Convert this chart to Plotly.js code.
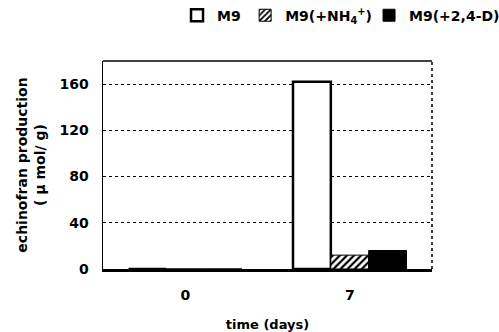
<!DOCTYPE html>
<html>
<head>
<meta charset="utf-8">
<script src="https://cdn.plot.ly/plotly-3.0.1.min.js"></script>
<style>html,body{margin:0;padding:0;background:#fff;}#chart{width:499px;height:332px;}</style>
</head>
<body>
<div id="chart"></div>
<script>
var days = ['0', '7'];
var seriesNames = ['M9', 'M9(+NH<sub>4</sub><sup>+</sup>)', 'M9(+2,4-D)'];
var m9 = [0, 162];
var m9NH4 = [0, 12];
var m9D24 = [0, 16];
var yTicks = [0, 40, 80, 120, 160];

var F = 'DejaVu Sans, Liberation Sans, sans-serif';
var LF = {family: F, size: 14, color: '#000'};

var traces = [
  {type: 'bar', name: '<b>' + seriesNames[0] + '</b>', x: days, y: m9, legend: 'legend',
   marker: {color: '#ffffff', line: {color: '#000', width: 2.5}}},
  {type: 'bar', name: '<b>' + seriesNames[1] + '</b>', x: days, y: m9NH4, legend: 'legend2',
   marker: {color: '#ffffff', line: {color: '#000', width: 1},
            pattern: {shape: '/', fgcolor: '#000', bgcolor: '#fff', size: 5, solidity: 0.45}}},
  {type: 'bar', name: '<b>' + seriesNames[2] + '</b>', x: days, y: m9D24, legend: 'legend3',
   marker: {color: '#000000', line: {color: '#000', width: 1}}}
];

function leg(x, anchor) {
  return {orientation: 'h', x: x, xanchor: anchor, y: 1.295, yanchor: 'top',
          font: LF, bgcolor: 'rgba(0,0,0,0)', itemwidth: 30};
}

var layout = {
  width: 499, height: 332,
  margin: {l: 103, r: 67, t: 61, b: 63, pad: 0, autoexpand: false},
  paper_bgcolor: '#fff', plot_bgcolor: '#fff',
  font: {family: F, color: '#000', size: 14},
  barmode: 'group',
  bargap: 0.31,
  bargroupgap: 0,
  showlegend: true,
  legend: leg(0.225, 'left'),
  legend2: leg(0.432, 'left'),
  legend3: leg(1.222, 'right'),
  xaxis: {type: 'category', showline: true, linecolor: '#000', linewidth: 2.5,
          ticks: '', showgrid: false, zeroline: false,
          tickfont: {family: F, size: 14, color: '#000', weight: 'bold'},
          ticklabelstandoff: 12,
          title: {text: '<b>time (days)</b>', font: {family: F, size: 13, color: '#000'}, standoff: 22}},
  yaxis: {range: [0, 180], tickvals: yTicks, ticktext: yTicks.map(String),
          showline: true, linecolor: '#000', linewidth: 1.5,
          ticks: '', showgrid: true, gridcolor: '#000', griddash: 'dot', gridwidth: 1,
          zeroline: false,
          tickfont: {family: F, size: 14, color: '#000', weight: 'bold'},
          ticklabelstandoff: 10,
          title: {text: '<b>echinofran production<br>( \u03bc mol/ g)</b>', font: {family: F, size: 14, color: '#000'}, standoff: 10}},
  shapes: [
    {type: 'line', xref: 'paper', yref: 'paper', x0: 0, x1: 1, y0: 1, y1: 1, line: {color: '#000', width: 1.5}},
    {type: 'line', xref: 'paper', yref: 'paper', x0: 1, x1: 1, y0: 0, y1: 1, line: {color: '#000', width: 1.5, dash: 'dot'}}
  ]
};

Plotly.newPlot('chart', traces, layout, {displayModeBar: false, staticPlot: true});
</script>
</body>
</html>
